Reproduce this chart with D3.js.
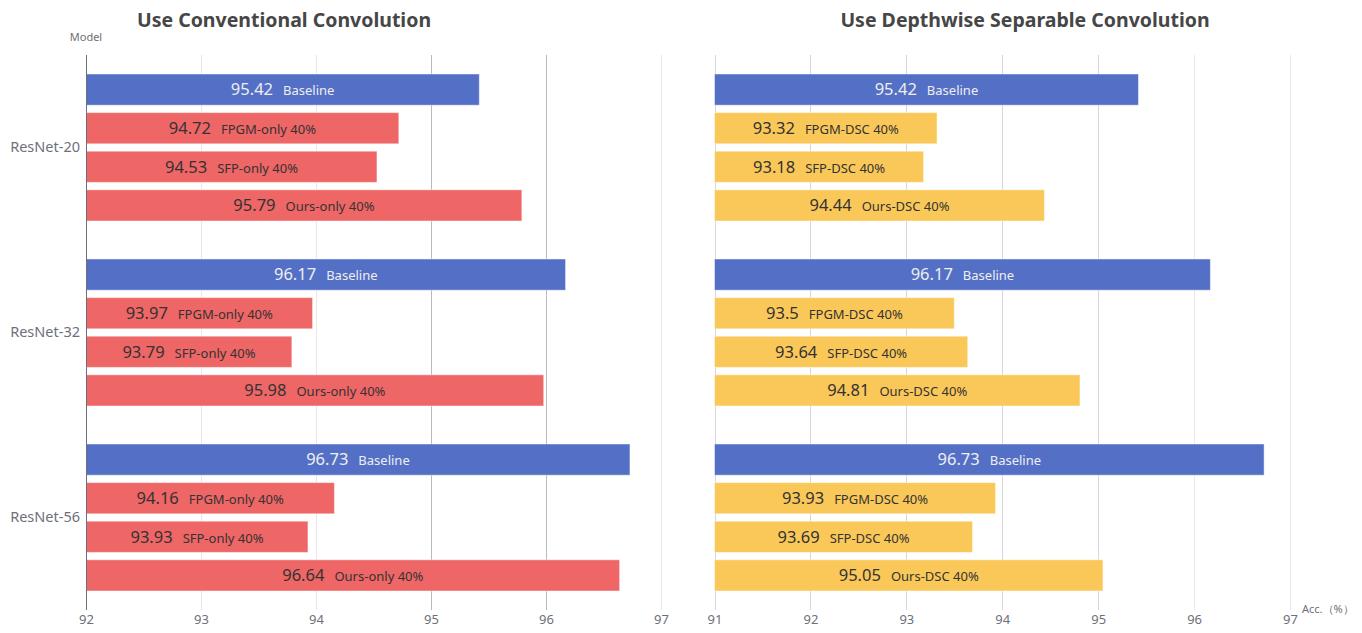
<!DOCTYPE html>
<html>
<head>
<meta charset="utf-8">
<script src="https://cdn.jsdelivr.net/npm/d3@7/dist/d3.min.js"></script>
<style>
  html, body { margin: 0; padding: 0; background: #fff; }
  svg { display: block; font-family: "Noto Sans", "Open Sans", sans-serif; }
</style>
</head>
<body>
<svg id="chart" width="1362" height="633"></svg>
<script>
// Model rows
const categories = ["ResNet-20", "ResNet-32", "ResNet-56"];

// Accuracy (%) per model
const baseline  = [95.42, 96.17, 96.73];
const fpgmOnly  = [94.72, 93.97, 94.16];
const sfpOnly   = [94.53, 93.79, 93.93];
const oursOnly  = [95.79, 95.98, 96.64];
const fpgmDsc   = [93.32, 93.50, 93.93];
const sfpDsc    = [93.18, 93.64, 93.69];
const oursDsc   = [94.44, 94.81, 95.05];

const leftNames  = ["Baseline", "FPGM-only 40%", "SFP-only 40%", "Ours-only 40%"];
const rightNames = ["Baseline", "FPGM-DSC 40%", "SFP-DSC 40%", "Ours-DSC 40%"];

const leftTicks  = [92, 93, 94, 95, 96, 97];
const rightTicks = [91, 92, 93, 94, 95, 96, 97];

const BLUE = "#5470c6", RED = "#ee6666", YELLOW = "#fac858";

const svg = d3.select("#chart");
const plotTop = 55, plotBottom = 610;

const yGroup = d3.scaleBand().domain(categories).range([plotTop, plotBottom]).padding(0);
const ySeries = d3.scaleBand().domain(d3.range(4))
  .range([19, yGroup.bandwidth() - 19]).paddingInner(0.192);

function panel(opts) {
  const x = d3.scaleLinear().domain(opts.domain).range(opts.range);
  const g = svg.append("g");

  // grid lines
  g.selectAll("line.grid").data(opts.ticks).join("line")
    .attr("x1", d => Math.round(x(d)) + 0.5).attr("x2", d => Math.round(x(d)) + 0.5)
    .attr("y1", plotTop).attr("y2", plotBottom)
    .attr("stroke", d => opts.gridColor(d))
    .attr("stroke-width", 1);

  // x axis labels
  const axis = d3.axisBottom(x).tickValues(opts.ticks).tickFormat(d3.format("d"))
    .tickSize(0).tickPadding(0);
  const ax = g.append("g").attr("transform", `translate(0,${plotBottom})`).call(axis);
  ax.select(".domain").remove();
  ax.selectAll("text").attr("y", 5).attr("dy", "0.71em")
    .attr("fill", "#6e7079").attr("font-size", 13)
    .style("font-family", "'Noto Sans', sans-serif");

  // bars
  opts.series.forEach((vals, si) => {
    const color = si === 0 ? BLUE : opts.color;
    const grp = g.append("g");
    grp.selectAll("rect").data(categories).join("rect")
      .attr("x", x(opts.domain[0]))
      .attr("y", c => yGroup(c) + ySeries(si))
      .attr("width", (c, i) => x(vals[i]) - x(opts.domain[0]))
      .attr("height", ySeries.bandwidth())
      .attr("fill", color)
      .attr("stroke", "rgba(255,255,255,0.45)")
      .attr("stroke-width", 1);

    const txt = grp.selectAll("text").data(categories).join("text")
      .attr("x", (c, i) => (x(opts.domain[0]) + x(vals[i])) / 2)
      .attr("y", c => yGroup(c) + ySeries(si) + ySeries.bandwidth() / 2)
      .attr("dy", "0.36em")
      .attr("text-anchor", "middle")
      .attr("fill", si === 0 ? "#eeeeee" : "#333333");
    txt.append("tspan").attr("font-size", 16.5).text((c, i) => vals[i]);
    txt.append("tspan").attr("font-size", 13).attr("dx", 10).text(opts.names[si]);
  });

  // axis line for the left panel
  if (opts.axisLine) {
    g.append("line")
      .attr("x1", Math.round(x(opts.domain[0])) + 0.5).attr("x2", Math.round(x(opts.domain[0])) + 0.5)
      .attr("y1", plotTop).attr("y2", plotBottom)
      .attr("stroke", "#6e7079").attr("stroke-width", 1);
  }

  // title
  svg.append("text").attr("x", opts.titleX).attr("y", 27)
    .attr("text-anchor", "middle").attr("font-size", 19.5).attr("font-weight", "bold")
    .attr("fill", "#464646").text(opts.title);
  return x;
}

panel({
  domain: [92, 97], range: [86, 661], ticks: leftTicks,
  series: [baseline, fpgmOnly, sfpOnly, oursOnly], names: leftNames, color: RED,
  gridColor: d => (d === 95 || d === 96) ? "#b9b9c0" : "#e6e6ec",
  axisLine: true, title: "Use Conventional Convolution", titleX: 284
});

panel({
  domain: [91, 97], range: [714.5, 1290], ticks: rightTicks,
  series: [baseline, fpgmDsc, sfpDsc, oursDsc], names: rightNames, color: YELLOW,
  gridColor: d => d <= 95 ? "#d6d6de" : "#e8e8ec",
  axisLine: false, title: "Use Depthwise Separable Convolution", titleX: 1025
});

// category labels
svg.append("g").selectAll("text").data(categories).join("text")
  .attr("x", 80).attr("y", c => yGroup(c) + yGroup.bandwidth() / 2 - 1)
  .attr("dy", "0.36em").attr("text-anchor", "end")
  .attr("font-size", 14.5).attr("fill", "#6e7079").text(c => c);

// axis names
svg.append("text").attr("x", 86).attr("y", 41).attr("text-anchor", "middle")
  .attr("font-size", 11).attr("fill", "#6e7079").text("Model");
svg.append("text").attr("x", 1302).attr("y", 613)
  .attr("font-size", 11).attr("fill", "#6e7079").text("Acc.（%）");
</script>
</body>
</html>
